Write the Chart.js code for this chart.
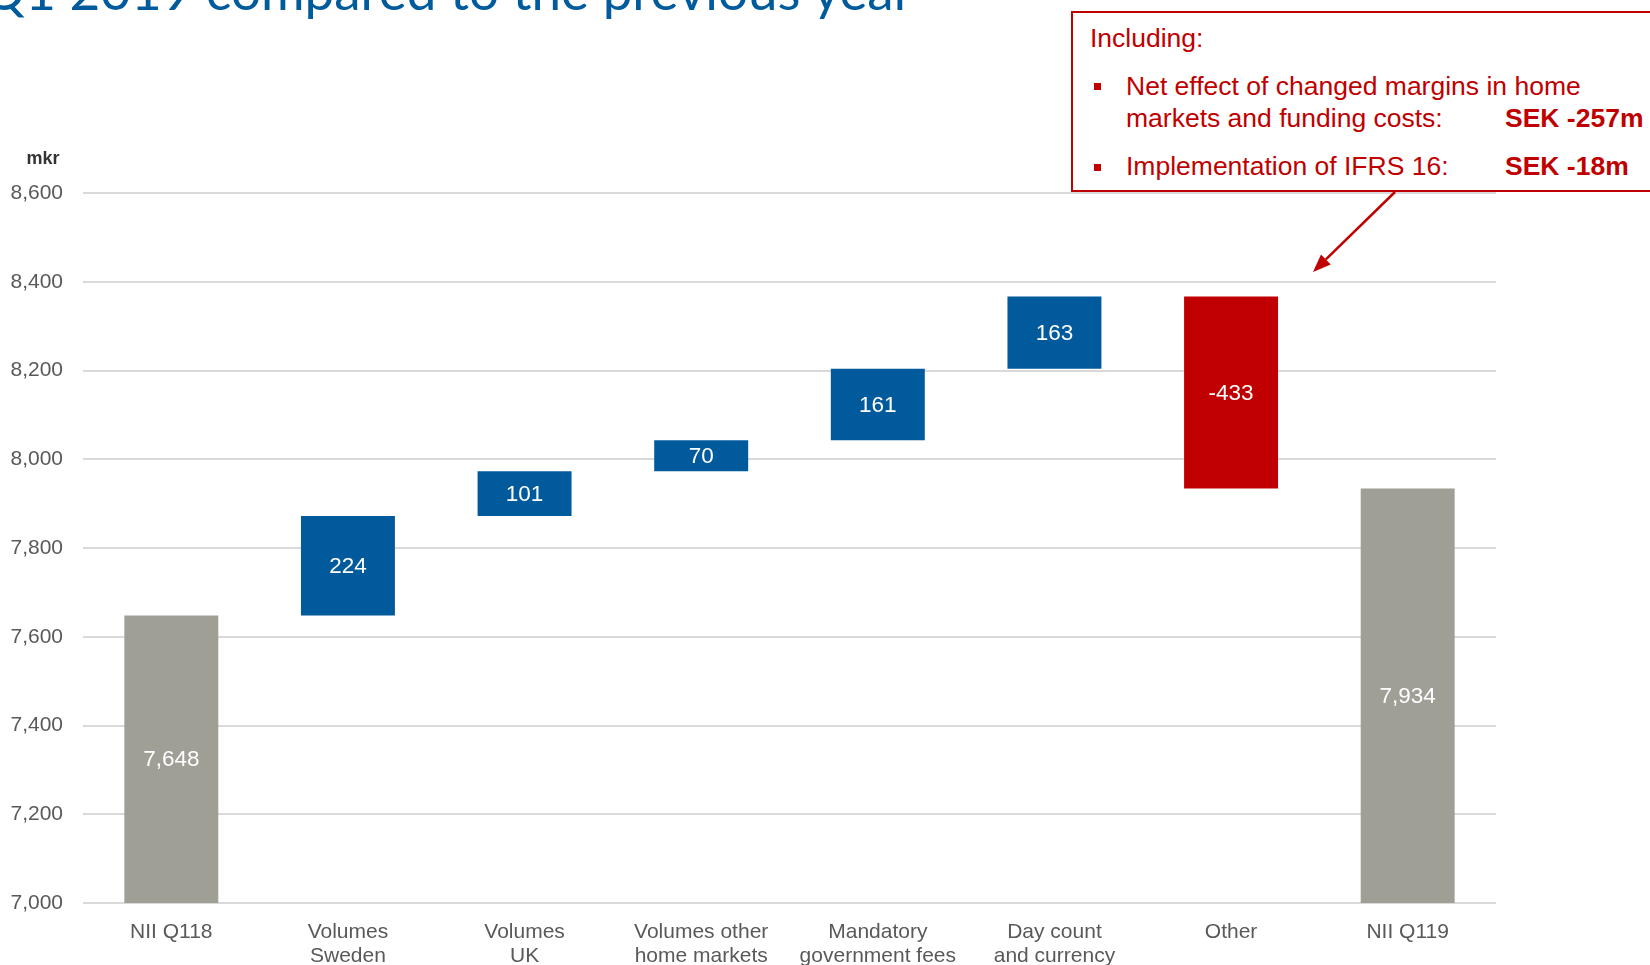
<!DOCTYPE html>
<html>
<head>
<meta charset="utf-8">
<script src="https://cdn.jsdelivr.net/npm/chart.js@4/dist/chart.umd.min.js"></script>
<style>
  html, body { margin: 0; padding: 0; background: #ffffff; }
  body { width: 1650px; height: 965px; position: relative; overflow: hidden; }
  #chartNii { position: absolute; left: 0; top: 0; }
  .title {
    position: absolute; right: 737px; top: -37px; white-space: nowrap;
    font-family: Lato, "Open Sans", sans-serif; font-size: 53px; line-height: 53px; color: #005b9c;
  }
  .callout {
    position: absolute; left: 1071px; top: 11px; width: 800px; height: 181px;
    border: 2px solid #c00000; box-sizing: border-box; background: #ffffff;
  }
  .callout span {
    position: absolute; white-space: nowrap; font-family: "Liberation Sans", Arial, sans-serif;
    font-size: 26.5px; line-height: 26px; color: #c00000;
  }
  .callout .sek { font-weight: bold; }
  .callout i { position: absolute; width: 7px; height: 7px; background: #c00000; }
</style>
</head>
<body>
<div class="title">Q1 2019 compared to the previous year</div>
<canvas id="chartNii" width="1650" height="965"></canvas>
<div class="callout">
  <span style="left:17px; top:12px;">Including:</span>
  <i style="left:21px; top:70px;"></i>
  <span style="left:53px; top:60px;">Net effect of changed margins in home</span>
  <span style="left:53px; top:92px;">markets and funding costs:</span>
  <span class="sek" style="left:432px; top:92px;">SEK -257m</span>
  <i style="left:21px; top:151px;"></i>
  <span style="left:53px; top:140px;">Implementation of IFRS 16:</span>
  <span class="sek" style="left:432px; top:140px;">SEK -18m</span>
</div>

<script>
  /* Datos del puente de ingresos por intereses (mkr) */
  const categories = [
    'NII Q118',
    ['Volumes', 'Sweden'],
    ['Volumes', 'UK'],
    ['Volumes other', 'home markets'],
    ['Mandatory', 'government fees'],
    ['Day count', 'and currency'],
    'Other',
    'NII Q119',
  ];
  const values = [7648, 224, 101, 70, 161, 163, -433, 7934];
  const isTotal = [true, false, false, false, false, false, false, true];
  const yMin = 7000;
  const yMax = 8600;
  const yStep = 200;

  const colorTotal = '#a09f96';
  const colorUp = '#005a9b';
  const colorDown = '#c00000';

  /* Rangos flotantes de la cascada */
  let ranges = [];
  let colors = [];
  let running = 0;
  for (let i = 0; i < values.length; i++) {
    if (isTotal[i]) {
      ranges.push([yMin, values[i]]);
      running = values[i];
      colors.push(colorTotal);
    } else {
      ranges.push([running, running + values[i]]);
      running += values[i];
      colors.push(values[i] < 0 ? colorDown : colorUp);
    }
  }

  /* Etiquetas dentro de las barras */
  const barLabels = {
    id: 'barLabels',
    afterDatasetsDraw(chart) {
      const ctx = chart.ctx;
      const meta = chart.getDatasetMeta(0);
      ctx.save();
      ctx.font = '22.5px "Liberation Sans", Arial, sans-serif';
      ctx.fillStyle = '#ffffff';
      ctx.textAlign = 'center';
      ctx.textBaseline = 'middle';
      meta.data.forEach((bar, i) => {
        ctx.fillText(values[i].toLocaleString('en-US'), bar.x, (bar.y + bar.base) / 2 + 1);
      });
      ctx.restore();
    },
  };

  /* Unidad del eje y flecha del recuadro */
  const extras = {
    id: 'extras',
    afterDraw(chart) {
      const ctx = chart.ctx;
      const yAxis = chart.scales.y;
      ctx.save();
      ctx.font = 'bold 18px "Liberation Sans", Arial, sans-serif';
      ctx.fillStyle = '#333333';
      ctx.textAlign = 'center';
      ctx.textBaseline = 'middle';
      ctx.fillText('mkr', 43, yAxis.top - 34);

      const from = [1395, 192];
      const to = [1313, 272];
      const ang = Math.atan2(to[1] - from[1], to[0] - from[0]);
      const len = 18;
      const half = 7;
      const bx = to[0] - len * Math.cos(ang);
      const by = to[1] - len * Math.sin(ang);
      ctx.strokeStyle = colorDown;
      ctx.fillStyle = colorDown;
      ctx.lineWidth = 2.5;
      ctx.beginPath();
      ctx.moveTo(from[0], from[1]);
      ctx.lineTo(bx, by);
      ctx.stroke();
      ctx.beginPath();
      ctx.moveTo(to[0], to[1]);
      ctx.lineTo(bx + half * Math.sin(ang), by - half * Math.cos(ang));
      ctx.lineTo(bx - half * Math.sin(ang), by + half * Math.cos(ang));
      ctx.closePath();
      ctx.fill();
      ctx.restore();
    },
  };

  Chart.defaults.font.family = '"Liberation Sans", Arial, sans-serif';

  const cnv = document.getElementById('chartNii');
  const chartNii = new Chart(cnv, {
    type: 'bar',
    plugins: [barLabels, extras],
    data: {
      labels: categories,
      datasets: [
        {
          data: ranges,
          backgroundColor: colors,
          borderWidth: 0,
          barPercentage: 0.532,
          categoryPercentage: 1,
        },
      ],
    },
    options: {
      responsive: false,
      animation: false,
      layout: {
        padding: { left: 0, right: 154, top: 193, bottom: 0 },
      },
      scales: {
        x: {
          grid: { display: false },
          border: { display: false },
          ticks: {
            color: '#595959',
            font: { size: 21, lineHeight: 1.15 },
            padding: 9,
            maxRotation: 0,
            autoSkip: false,
          },
          afterFit(scale) {
            scale.height = 62;
          },
        },
        y: {
          min: yMin,
          max: yMax,
          grid: { color: '#d9d9d9', lineWidth: 2, drawTicks: false },
          border: { display: false },
          ticks: {
            stepSize: yStep,
            color: '#595959',
            font: { size: 21 },
            padding: 20,
            callback: (v) => v.toLocaleString('en-US'),
          },
          afterFit(scale) {
            scale.width = 83;
          },
        },
      },
      plugins: {
        legend: { display: false },
        tooltip: { enabled: false },
      },
    },
  });
</script>
</body>
</html>
